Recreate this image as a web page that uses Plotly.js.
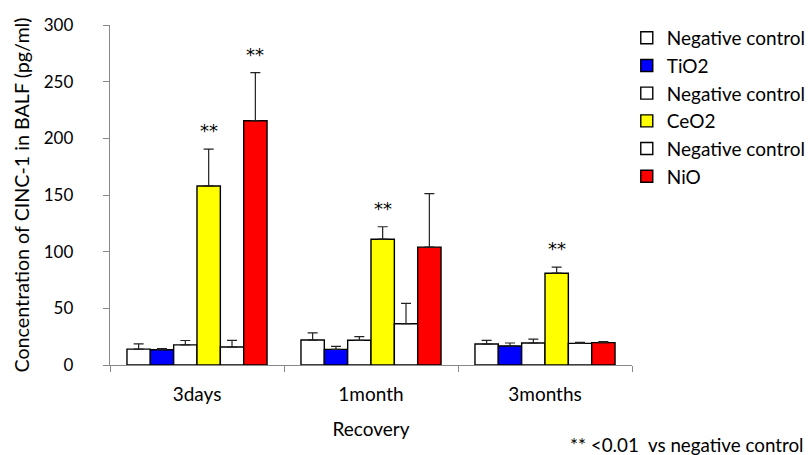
<!DOCTYPE html>
<html>
<head>
<meta charset="utf-8">
<script src="https://cdn.plot.ly/plotly-3.0.1.min.js"></script>
<style>html,body{margin:0;padding:0;background:#fff;}#chart{width:811px;height:455px;}</style>
</head>
<body>
<div id="chart"></div>
<script>
const categories = ["3days", "1month", "3months"];
const seriesNames = ["Negative control", "TiO2", "Negative control", "CeO2", "Negative control", "NiO"];
const nc1 = [14, 22, 18.5];
const nc1Err = [4.7, 6.4, 3.2];
const tio2 = [13.5, 13.8, 16.8];
const tio2Err = [1, 2.7, 2.6];
const nc2 = [17.8, 21.8, 19.4];
const nc2Err = [3.8, 3.2, 3.5];
const ceo2 = [158, 111, 81];
const ceo2Err = [32.5, 11, 5.3];
const nc3 = [15.9, 36.4, 19.1];
const nc3Err = [5.8, 18, 0.8];
const nio = [215.5, 104, 19.7];
const nioErr = [42.5, 47.3, 0.9];
const sigCeO2 = [true, true, true];
const sigNiO = [true, false, false];
const footnote = "** <0.01&nbsp; vs negative control";

const values = [nc1, tio2, nc2, ceo2, nc3, nio];
const errs = [nc1Err, tio2Err, nc2Err, ceo2Err, nc3Err, nioErr];
const colors = ["#ffffff", "#0000ff", "#ffffff", "#ffff00", "#ffffff", "#ff0000"];
const FONT = "Lato, 'Noto Sans', sans-serif";

const traces = values.map((v, i) => ({
  type: "bar",
  x: categories,
  y: v,
  name: seriesNames[i],
  marker: {color: colors[i], line: {color: "#000", width: 1.4}},
  error_y: {type: "data", array: errs[i], arrayminus: v.map(() => 0), symmetric: false, color: "#222", thickness: 1.2, width: 5},
}));

const plotW = 522;
const bargap = 0.195;
const barPx = plotW / categories.length * (1 - bargap) / values.length;
const annotations = [];
function addSig(flags, idx) {
  flags.forEach((f, c) => {
    if (!f) return;
    annotations.push({
      x: categories[c], y: values[idx][c] + errs[idx][c], xref: "x", yref: "y",
      text: "**", showarrow: false, xshift: (idx - 2.5) * barPx, yshift: 6,
      yanchor: "bottom", font: {family: "'DejaVu Sans', sans-serif", size: 18, color: "#000"}
    });
  });
}
addSig(sigCeO2, 3);
addSig(sigNiO, 5);
annotations.push({
  xref: "paper", yref: "paper", x: 1.333, y: -0.235, xanchor: "right", yanchor: "middle",
  text: footnote, showarrow: false, font: {family: FONT, size: 18.8, color: "#000"}
});

const layout = {
  width: 811, height: 455,
  margin: {l: 110, r: 179, t: 25, b: 90, autoexpand: false},
  paper_bgcolor: "#fff", plot_bgcolor: "#fff",
  font: {family: FONT, size: 17, color: "#000"},
  barmode: "group", bargap: bargap, bargroupgap: 0,
  showlegend: true,
  legend: {x: 0.99, xanchor: "left", y: 1.018, yanchor: "top", traceorder: "normal",
           font: {family: FONT, size: 19, color: "#000"}, itemwidth: 30, tracegroupgap: 0},
  xaxis: {
    type: "category", showline: true, linecolor: "#888", linewidth: 1.3,
    ticks: "outside", tickson: "boundaries", ticklen: 6, tickcolor: "#888",
    showgrid: false, zeroline: false, ticklabelstandoff: 12, automargin: false,
    tickfont: {family: FONT, size: 19},
    title: {text: "Recovery", font: {family: FONT, size: 19}, standoff: 18}
  },
  yaxis: {
    range: [0, 300], dtick: 50, showline: true, linecolor: "#888", linewidth: 1.3,
    ticks: "outside", ticklen: 6, tickcolor: "#888", showgrid: false, zeroline: false,
    ticklabelstandoff: 26, automargin: false,
    tickfont: {family: FONT, size: 17},
    title: {text: "Concentration of CINC-1 in BALF (pg/ml)", font: {family: FONT, size: 19.7}, standoff: 8}
  },
  annotations: annotations
};

Plotly.newPlot("chart", traces, layout, {displayModeBar: false, staticPlot: true});
</script>
</body>
</html>
